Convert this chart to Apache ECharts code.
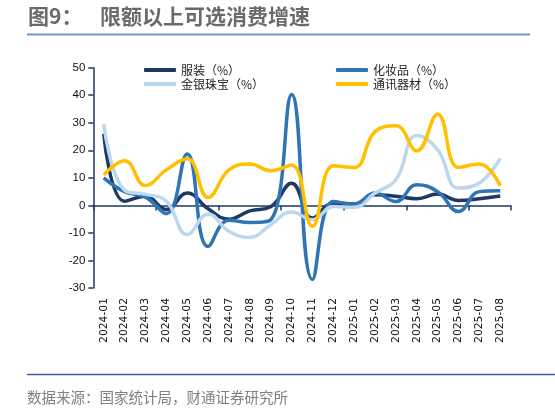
<!DOCTYPE html>
<html>
<head>
<meta charset="utf-8">
<script src="https://cdn.jsdelivr.net/npm/echarts@6/dist/echarts.min.js"></script>
<style>
  html, body { margin: 0; padding: 0; background: #fff; }
  #chart { width: 555px; height: 408px; }
</style>
</head>
<body>
<div id="chart"></div>
<script>
// 月份
var months = ["2024-01", "2024-02", "2024-03", "2024-04", "2024-05", "2024-06", "2024-07",
  "2024-08", "2024-09", "2024-10", "2024-11", "2024-12", "2025-01", "2025-02",
  "2025-03", "2025-04", "2025-05", "2025-06", "2025-07", "2025-08"];
// 各类可选消费增速（%）
var clothing = [26, 1.5, 3.3, -1.5, 4.5, -1.2, -5, -2, -0.5, 8, -4.6, 0.8, 0.5, 3.9, 3.3, 2.4, 4.1, 1.8, 2.4, 3.4];
var cosmetics = [10, 5, 3, -3, 18.7, -14.9, -5.4, -6.2, -5.2, 40.3, -26.9, 1.4, 0.5, 4.5, 1.4, 7.5, 5, -2.2, 5, 5.3];
var jewelry = [29.5, 5.5, 4, 1.5, -10.6, -3.1, -9.4, -11.6, -7, -2.4, -5.2, -0.4, -0.7, 4.5, 9.3, 25.4, 20.2, 6.3, 8.1, 17.1];
var telecom = [11.1, 16.2, 7.2, 12.9, 16.9, 2.9, 12.9, 15, 12.6, 14.7, -7.6, 14.4, 13.8, 26.8, 28.9, 19.8, 33.1, 13.8, 15, 7.1];
var yTicks = { min: -30, max: 50, interval: 10 };

var chart = echarts.init(document.getElementById("chart"));

function lineSeries(name, data, color) {
  return {
    name: name,
    type: "line",
    xAxisIndex: 0,
    smooth: 0.45,
    symbol: "none",
    data: data,
    lineStyle: { color: color, width: 3.5 },
    itemStyle: { color: color }
  };
}

var legendText = { fontFamily: "Noto Sans CJK SC", fontSize: 12, color: "#222", lineHeight: 14 };

var option = {
  animation: false,
  backgroundColor: "#fff",
  graphic: [
    { type: "text", left: 28, top: 6, style: { text: "图9：", font: "bold 21px 'Noto Sans CJK SC'", fill: "#6b6b6b" } },
    { type: "text", left: 100, top: 6, style: { text: "限额以上可选消费增速", font: "bold 21px 'Noto Sans CJK SC'", fill: "#6b6b6b" } },
    { type: "line", shape: { x1: 27, y1: 34.5, x2: 530, y2: 34.5 }, style: { stroke: "#6f96cc", lineWidth: 2 } },
    { type: "line", shape: { x1: 27, y1: 374.5, x2: 555, y2: 374.5 }, style: { stroke: "#2f5f9f", lineWidth: 1.5 } },
    { type: "text", left: 27, top: 390, style: { text: "数据来源：国家统计局，财通证券研究所", font: "14.5px 'Noto Sans CJK SC'", fill: "#7f7f7f" } }
  ],
  legend: [
    {
      orient: "vertical", left: 139, top: 58, itemGap: 0,
      itemWidth: 32, itemHeight: 4, icon: "roundRect",
      textStyle: legendText,
      data: ["服装（%）", "金银珠宝（%）"]
    },
    {
      orient: "vertical", left: 331, top: 58, itemGap: 0,
      itemWidth: 32, itemHeight: 4, icon: "roundRect",
      textStyle: legendText,
      data: ["化妆品（%）", "通讯器材（%）"]
    }
  ],
  grid: { left: 93.3, right: 44.3, top: 67.7, bottom: 120, containLabel: false, outerBoundsMode: "none" },
  xAxis: [
    {
      type: "category",
      data: months,
      position: "bottom",
      boundaryGap: true,
      axisLine: { show: false, onZero: false },
      axisTick: { show: false },
      axisLabel: { rotate: 90, margin: 10, fontFamily: "DejaVu Sans", fontSize: 10.75, color: "#111" }
    },
    {
      type: "category",
      data: months,
      position: "bottom",
      boundaryGap: true,
      axisLine: { show: true, onZero: true, lineStyle: { color: "#1f3864", width: 1.5 } },
      axisTick: { show: true, inside: false, length: 5, lineStyle: { color: "#1f3864", width: 1.5 } },
      axisLabel: { show: false }
    }
  ],
  yAxis: {
    type: "value",
    min: yTicks.min,
    max: yTicks.max,
    interval: yTicks.interval,
    splitLine: { show: false },
    axisLine: { show: true, onZero: false, lineStyle: { color: "#1f3864", width: 1.5 } },
    axisTick: { show: true, length: 5, lineStyle: { color: "#1f3864", width: 1.5 } },
    axisLabel: { margin: 8, fontFamily: "Liberation Sans", fontSize: 11.5, color: "#111" }
  },
  series: [
    lineSeries("服装（%）", clothing, "#1f3864"),
    lineSeries("化妆品（%）", cosmetics, "#2e75b6"),
    lineSeries("金银珠宝（%）", jewelry, "#bdd7ee"),
    lineSeries("通讯器材（%）", telecom, "#ffc000")
  ]
};

chart.setOption(option);
</script>
</body>
</html>
